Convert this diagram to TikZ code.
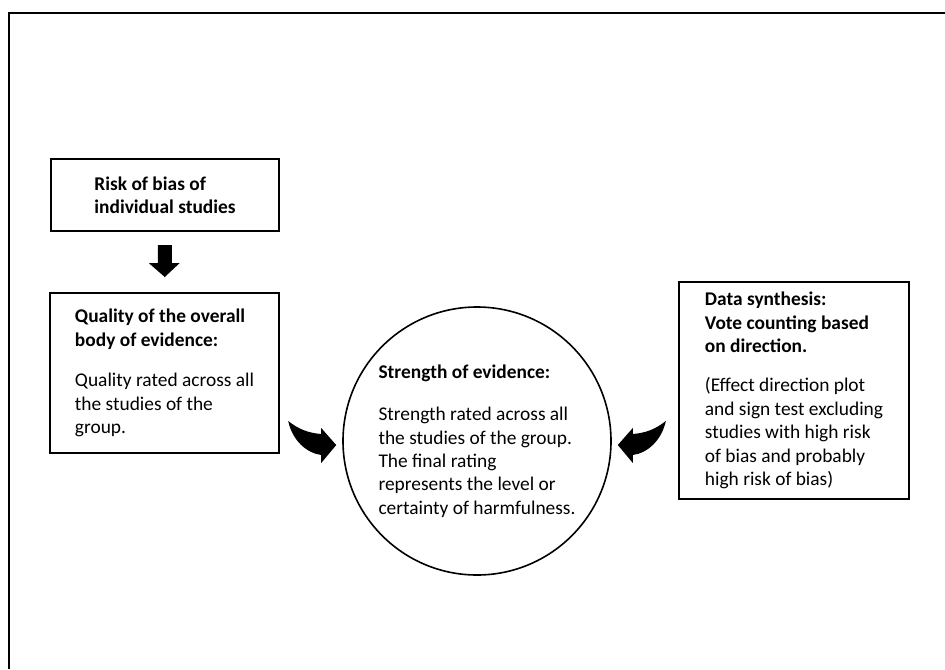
\documentclass[tikz,border=0pt]{standalone}
\usepackage{fontspec}
\setmainfont{Carlito}
\usetikzlibrary{calc}
\begin{document}
\begin{tikzpicture}[x=0.5pt,y=-0.5pt,
  font=\fontsize{9.7}{11.7}\selectfont,
  box/.style={draw,line width=0.8pt,align=left,inner sep=0pt},
  bubble/.style={draw,circle,line width=0.8pt,align=left,inner sep=0pt,minimum size=134pt}]
\useasboundingbox (0,0) rectangle (945,669);
\draw[line width=1pt] (9,669) -- (9,13) -- (945,13);

\node[box,minimum width=114pt,minimum height=36pt] (risk) at (165,195)
  {\textbf{Risk of bias of}\\\textbf{individual studies}};
\node[box,minimum width=114.5pt,minimum height=80pt] (quality) at (164.5,373)
  {\textbf{Quality of the overall}\\\textbf{body of evidence:}\\[8.5pt]
   Quality rated across all\\the studies of the\\group.};
\node[bubble] (strength) at (477,441)
  {\textbf{Strength of evidence:}\\[9.5pt]
   Strength rated across all\\the studies of the group.\\The final rating\\
   represents the level or\\certainty of harmfulness.};
\node[box,minimum width=115pt,minimum height=108.5pt] (synthesis) at (794,390.5)
  {\textbf{Data synthesis:}\\\textbf{Vote counting based}\\\textbf{on direction.}\\[8pt]
   (Effect direction plot\\and sign test excluding\\studies with high risk\\
   of bias and probably\\high risk of bias)};

% block arrows
\coordinate (dn) at ($(risk.south)!0.5!(quality.north)$);
\fill[shift={(dn)}] (-7,-17) -- (7,-17) -- (7,1) -- (15,1) -- (0,15) -- (-16,1) -- (-7,1) -- cycle;

\coordinate (inL) at ([xshift=-3pt,yshift=-2pt]strength.west);
\coordinate (inR) at ([xshift=3pt,yshift=-2pt]strength.east);
\fill[shift={(inL)}] (-48,-24) .. controls (-38,-16) and (-28,-12) .. (-15,-11) -- (-15,-17) -- (0,0)
  -- (-15,18) -- (-15,10) .. controls (-30,8) and (-44,-5) .. (-48,-24) -- cycle;
\fill[shift={(inR)},xscale=-1] (-48,-24) .. controls (-38,-16) and (-28,-12) .. (-15,-11) -- (-15,-17) -- (0,0)
  -- (-15,18) -- (-15,10) .. controls (-30,8) and (-44,-5) .. (-48,-24) -- cycle;
\end{tikzpicture}
\end{document}
